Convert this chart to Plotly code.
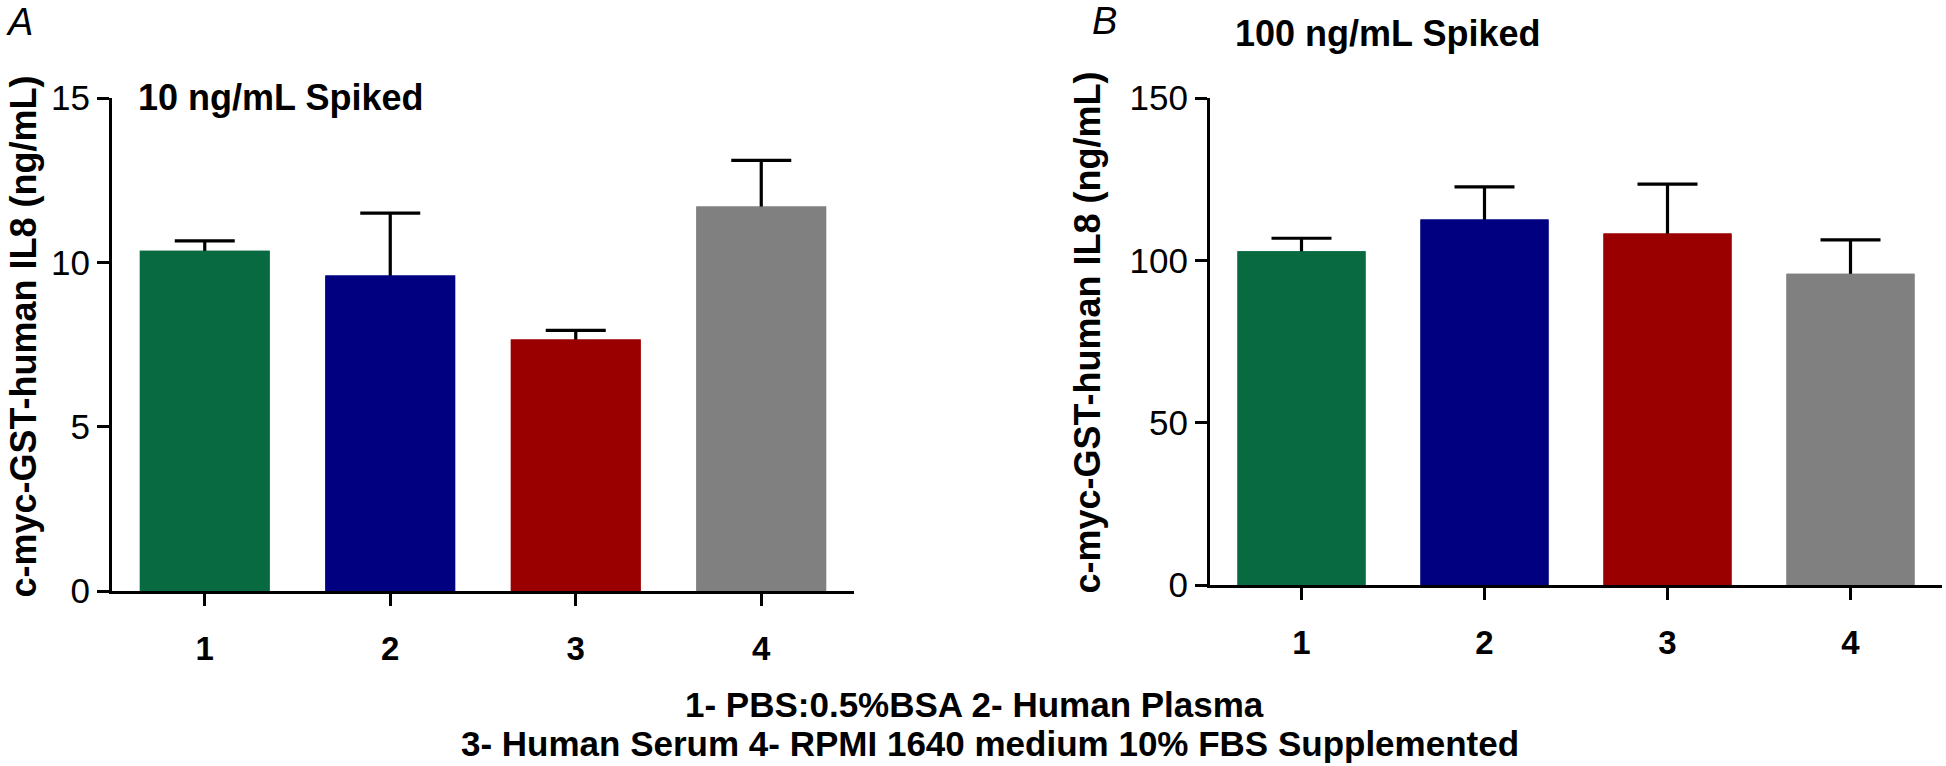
import plotly.graph_objects as go

W, H = 1946, 766

categories = ["1", "2", "3", "4"]
colors = ["#086A41", "#000080", "#9B0000", "#808080"]

# Panel A: 10 ng/mL spiked
a_values = [10.35, 9.6, 7.65, 11.7]
a_errors = [0.3, 1.9, 0.28, 1.4]

# Panel B: 100 ng/mL spiked
b_values = [102.8, 112.6, 108.3, 95.9]
b_errors = [4.0, 10.0, 15.2, 10.4]

a_ticks = [0, 5, 10, 15]
b_ticks = [0, 50, 100, 150]

ytitle = "c-myc-GST-human IL8 (ng/mL)"
footer1 = "1- PBS:0.5%BSA 2- Human Plasma"
footer2 = "3- Human Serum 4- RPMI 1640 medium 10% FBS Supplemented"


def px_x(p):
    return p / W


def px_y(p):
    return 1 - p / H


fig = go.Figure()

for vals, errs, xa, ya in [(a_values, a_errors, "x", "y"), (b_values, b_errors, "x2", "y2")]:
    # bar carrying the (symmetric) error bar
    fig.add_trace(go.Bar(
        x=categories, y=vals, width=0.7,
        marker=dict(color=colors, line=dict(width=0)),
        error_y=dict(type="data", array=errs, symmetric=True,
                     color="black", thickness=3.2, width=30),
        xaxis=xa, yaxis=ya, showlegend=False, hoverinfo="skip",
    ))
    # identical bar on top hides the lower half of the error bar
    fig.add_trace(go.Bar(
        x=categories, y=vals, width=0.7,
        marker=dict(color=colors, line=dict(width=0)),
        xaxis=xa, yaxis=ya, showlegend=False,
    ))

axis_common = dict(showline=True, linecolor="black", linewidth=3.2,
                   ticks="outside", tickcolor="black", tickwidth=3.2, ticklen=12,
                   showgrid=False, zeroline=False, automargin=False)

xfont = dict(family="Liberation Sans", size=33, color="black", weight="bold")
yfont = dict(family="Liberation Sans", size=35, color="black")

fig.update_layout(
    template="none",
    width=W, height=H,
    margin=dict(l=0, r=0, t=0, b=0, pad=0),
    paper_bgcolor="white", plot_bgcolor="white",
    barmode="overlay",
    xaxis=dict(domain=[px_x(112), px_x(854)], type="category", range=[-0.5, 3.5],
               anchor="y", ticklabelstandoff=14, tickfont=xfont, **axis_common),
    yaxis=dict(domain=[px_y(591), px_y(98)], range=[0, 15], anchor="x",
               tickvals=a_ticks, ticktext=[str(t) for t in a_ticks],
               tickfont=yfont, **axis_common),
    xaxis2=dict(domain=[px_x(1210), px_x(1942)], type="category", range=[-0.5, 3.5],
                anchor="y2", ticklabelstandoff=14, tickfont=xfont, **axis_common),
    yaxis2=dict(domain=[px_y(585), px_y(98)], range=[0, 150], anchor="x2",
                tickvals=b_ticks, ticktext=[str(t) for t in b_ticks],
                tickfont=yfont, **axis_common),
)

ann = []


def add_text(text, x, y, size, xanchor="center", yanchor="middle", bold=False, italic=False,
             angle=0, family="Liberation Sans"):
    ann.append(dict(text=text, x=px_x(x), y=px_y(y), xref="paper", yref="paper",
                    xanchor=xanchor, yanchor=yanchor, showarrow=False, textangle=angle,
                    font=dict(family=family, size=size, color="black",
                              weight="bold" if bold else "normal",
                              style="italic" if italic else "normal")))


add_text("A", 4, 22, 38, xanchor="left", italic=True)
add_text("B", 1090, 21, 38, xanchor="left", italic=True)
add_text("10 ng/mL Spiked", 136, 98, 36, xanchor="left", bold=True)
add_text("100 ng/mL Spiked", 1233, 33, 36, xanchor="left", bold=True)
add_text(ytitle, 0, 337, 36, xanchor="left", bold=True, angle=-90)
add_text(ytitle, 1064, 333, 36, xanchor="left", bold=True, angle=-90)
add_text(footer1, 975, 704, 35, bold=True)
add_text(footer2, 990, 743, 35, bold=True)

fig.update_layout(annotations=ann)
fig.write_html("out.html",
               config={"displayModeBar": False},
               post_script="document.body.style.margin='0';document.body.style.overflow='hidden';")
